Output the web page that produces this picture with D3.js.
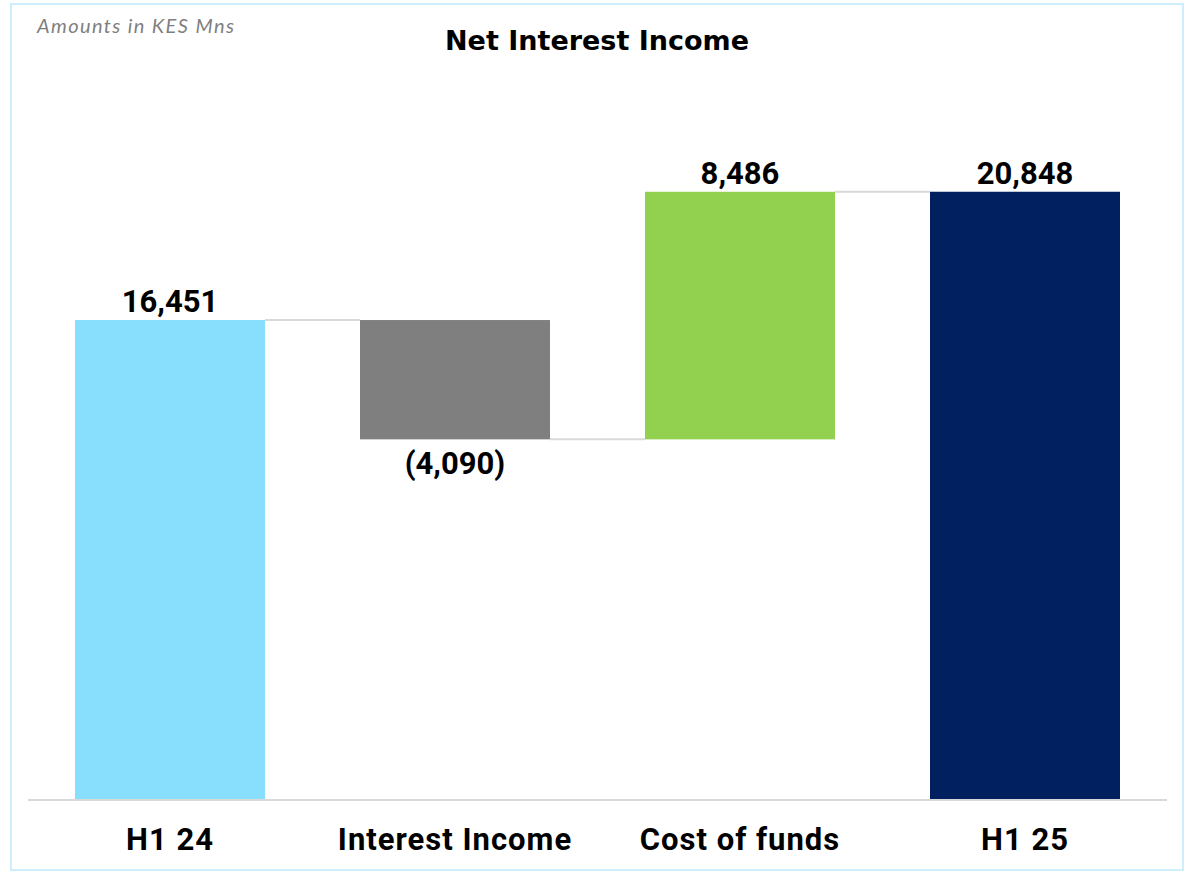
<!DOCTYPE html>
<html>
<head>
<meta charset="utf-8">
<script src="https://cdn.jsdelivr.net/npm/d3@7"></script>
<style>
  body { margin: 0; background: #ffffff; }
  svg { display: block; }
</style>
</head>
<body>
<div class="waterfall"></div>
<script>
// data
var categories = ["H1 24", "Interest Income", "Cost of funds", "H1 25"];
var values = [16451, -4090, 8486, 20848];
var kinds = ["total", "delta", "delta", "total"];
var labels = ["16,451", "(4,090)", "8,486", "20,848"];
var colors = ["#87dffd", "#7f7f7f", "#92d050", "#002060"];

var view = {
    width: 1191,
    height: 872,
    init() {
        this.svg = d3.select(".waterfall")
            .append("svg")
            .attr("width", this.width)
            .attr("height", this.height);

        //frame
        this.svg.append("rect")
            .attr("x", 11).attr("y", 4)
            .attr("width", 1172).attr("height", 866)
            .attr("fill", "#ffffff")
            .attr("stroke", "#cdeefb")
            .attr("stroke-width", 2);

        this.x = d3.scaleBand().domain(categories).range([27.5, 1167.5]).paddingInner(1 / 3).paddingOuter(1 / 6);
        this.y = d3.scaleLinear().domain([0, 27420]).range([800, 0]);
    },
    draw() {
        const x = this.x, y = this.y;

        //running start / end for each bar
        var steps = [];
        var run = 0;
        categories.forEach(function (c, i) {
            if (kinds[i] === "total") {
                steps.push({ c: c, lo: 0, hi: values[i], end: values[i], i: i });
                run = values[i];
            } else {
                var next = run + values[i];
                steps.push({ c: c, lo: Math.min(run, next), hi: Math.max(run, next), end: next, i: i });
                run = next;
            }
        });

        //connectors
        this.svg.selectAll(".conn")
            .data(steps.slice(0, -1))
            .enter().append("line")
            .attr("x1", d => x(d.c) + x.bandwidth())
            .attr("x2", (d, i) => x(categories[i + 1]))
            .attr("y1", d => y(d.end))
            .attr("y2", d => y(d.end))
            .attr("stroke", "#d9d9d9")
            .attr("stroke-width", 2);

        //bars
        this.svg.selectAll(".bar")
            .data(steps)
            .enter().append("rect")
            .attr("x", d => x(d.c))
            .attr("width", x.bandwidth())
            .attr("y", d => y(d.hi))
            .attr("height", d => y(d.lo) - y(d.hi))
            .attr("fill", d => colors[d.i]);

        //value labels
        this.svg.selectAll(".val")
            .data(steps)
            .enter().append("text")
            .attr("x", d => x(d.c) + x.bandwidth() / 2)
            .attr("y", d => values[d.i] < 0 ? y(d.lo) + 35 : y(d.hi) - 8)
            .attr("text-anchor", "middle")
            .style("font-family", "Roboto, Arial, sans-serif")
            .style("font-weight", "bold")
            .style("font-size", "31px")
            .style("fill", "#000000")
            .text(d => labels[d.i]);

        //baseline axis
        var axis = this.svg.append("g")
            .attr("transform", "translate(0," + y(0) + ")")
            .call(d3.axisBottom(x).tickSize(0).tickPadding(28));
        axis.select(".domain")
            .attr("d", "M28,0H1167")
            .attr("stroke", "#d9d9d9")
            .attr("stroke-width", 2);
        axis.selectAll("text")
            .style("font-family", "Roboto, Arial, sans-serif")
            .style("font-weight", "bold")
            .style("font-size", "31px")
            .style("letter-spacing", "1px")
            .style("fill", "#000000");

        //titles
        this.svg.append("text")
            .attr("x", 597).attr("y", 50)
            .attr("text-anchor", "middle")
            .style("font-family", "'DejaVu Sans', sans-serif")
            .style("font-weight", "bold")
            .style("font-size", "27px")
            .text("Net Interest Income");

        this.svg.append("text")
            .attr("x", 37).attr("y", 33)
            .style("font-family", "Lato, 'Open Sans', sans-serif")
            .style("font-style", "italic")
            .style("font-size", "20px")
            .style("letter-spacing", "1.4px")
            .style("fill", "#7f7f7f")
            .text("Amounts in KES Mns");
    }
};

var controller = {
    init() {
        view.init();
        view.draw();
    }
};

//Run
controller.init();
</script>
</body>
</html>
